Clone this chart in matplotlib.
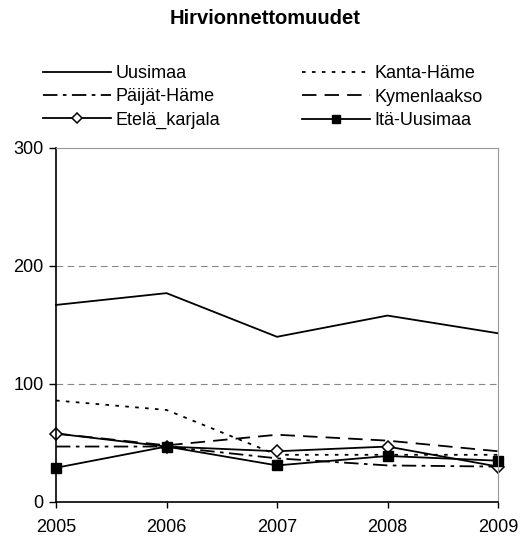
import matplotlib
matplotlib.use("Agg")
import matplotlib.pyplot as plt

# ── Data ────────────────────────────────────────────────────────────────
years = [2005, 2006, 2007, 2008, 2009]
uusimaa = [167, 177, 140, 158, 143]
kanta_hame = [86, 78, 40, 40, 40]
paijat_hame = [47, 47, 37, 31, 30]
kymenlaakso = [58, 48, 57, 52, 43]
etela_karjala = [58, 47, 43, 47, 30]
ita_uusimaa = [29, 47, 31, 39, 35]

plt.rcParams["font.family"] = ["Liberation Sans", "DejaVu Sans"]
FS = 13

fig = plt.figure(figsize=(5.21, 5.45), dpi=100)
ax = fig.add_axes([56 / 521, 1 - 502 / 545, 442 / 521, 354 / 545])

lw = 1.3
h1, = ax.plot(years, uusimaa, color="black", lw=lw, label="Uusimaa")
h2, = ax.plot(years, kanta_hame, color="black", lw=lw,
              linestyle=(0, (2, 3.5)), label="Kanta-Häme")
h3, = ax.plot(years, paijat_hame, color="black", lw=lw,
              linestyle=(0, (8, 3, 2, 3)), label="Päijät-Häme")
h4, = ax.plot(years, kymenlaakso, color="black", lw=lw,
              linestyle=(0, (8, 4.5)), label="Kymenlaakso")
h5, = ax.plot(years, etela_karjala, color="black", lw=lw, marker="D",
              markersize=6.5, markerfacecolor="white", markeredgecolor="black",
              markeredgewidth=1.1, label="Etelä_karjala")
h6, = ax.plot(years, ita_uusimaa, color="black", lw=lw, marker="s",
              markersize=7, markerfacecolor="black", label="Itä-Uusimaa")
for h in (h1, h2, h3, h4, h5, h6):
    h.set_clip_on(False)

ax.set_xlim(2005, 2009)
ax.set_ylim(0, 300)
ax.set_xticks(years)
ax.set_yticks([0, 100, 200, 300])
ax.tick_params(axis="both", labelsize=FS, direction="out", width=1.0,
               color="black")
ax.tick_params(axis="x", length=4, pad=8)
ax.tick_params(axis="y", length=5, pad=4)
for y in (100, 200):
    ax.axhline(y, color="#888888", lw=0.8, linestyle=(0, (6, 4)), zorder=0)

ax.spines["left"].set_color("black")
ax.spines["bottom"].set_color("black")
ax.spines["left"].set_linewidth(1.2)
ax.spines["bottom"].set_linewidth(1.2)
ax.spines["top"].set_color("#999999")
ax.spines["right"].set_color("#999999")

fig.text(265 / 521, 1 - 18 / 545, "Hirvionnettomuudet", ha="center",
         va="center", fontsize=14.5, fontweight="bold")

# two legend columns, placed separately
leg_kw = dict(frameon=False, loc="center left", fontsize=FS,
              handlelength=3.75, handletextpad=0.25, labelspacing=0.35,
              borderpad=0, borderaxespad=0, markerscale=0.85)
leg1 = fig.legend(handles=[h1, h3, h5],
                  bbox_to_anchor=(43 / 521, 1 - 97 / 545), **leg_kw)
leg2 = fig.legend(handles=[h2, h4, h6],
                  bbox_to_anchor=(302 / 521, 1 - 97 / 545), **leg_kw)

fig.savefig("out.png", dpi=100)
